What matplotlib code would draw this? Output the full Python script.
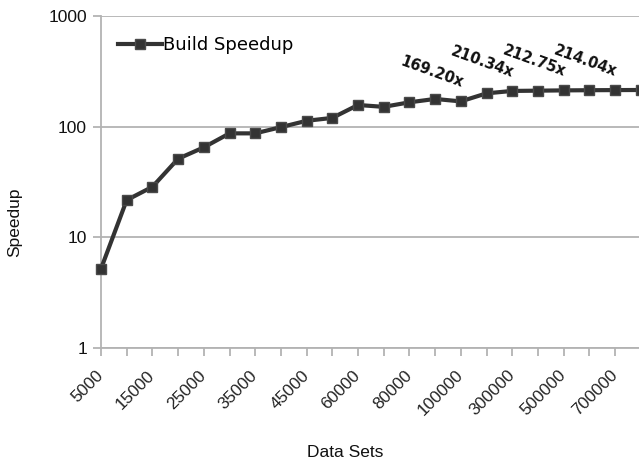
import matplotlib
matplotlib.use("Agg")
import matplotlib.pyplot as plt
import numpy as np

# Data set sizes (categorical x axis) and measured build speedup
data_sets = [5000, 10000, 15000, 20000, 25000, 30000, 35000, 40000, 45000, 50000,
             60000, 70000, 80000, 90000, 100000, 200000, 300000, 400000,
             500000, 600000, 700000, 800000]
speedup = [5.2, 21.7, 28.6, 51.3, 65.0, 87.0, 87.0, 99.0, 113.0, 120.0,
           157.0, 151.0, 166.0, 178.0, 169.20, 200.0, 210.34, 211.5,
           212.75, 213.5, 214.04, 214.5]
labeled = [14, 16, 18, 20]          # points carrying a value label
y_ticks = [1, 10, 100, 1000]

W, H, DPI = 639, 461, 100
fig = plt.figure(figsize=(W / DPI, H / DPI), dpi=DPI)

x0, y_top, y_bot, step = 101, 16, 348, 25.7
n_span = 22
ax = fig.add_axes([x0 / W, (H - y_bot) / H, n_span * step / W, (y_bot - y_top) / H])

x = np.arange(len(data_sets))
line_col = "#333333"
ax.plot(x, speedup, color=line_col, lw=3.0, marker="s", markersize=7.5,
        markerfacecolor="#333333", markeredgecolor="#4a4a4a", markeredgewidth=1.0,
        label="Build Speedup", zorder=3, clip_on=False)

ax.set_yscale("log")
ax.set_ylim(1, 1000)
ax.set_xlim(0, n_span)
ax.set_yticks(y_ticks)
ax.set_yticklabels([str(v) for v in y_ticks])
ax.yaxis.set_minor_locator(matplotlib.ticker.NullLocator())

ax.set_xticks(x)
ax.set_xticklabels([str(v) if i % 2 == 0 else "" for i, v in enumerate(data_sets)],
                   rotation=45, ha="right", va="center", rotation_mode="anchor")

grid_col = "#b3b3b3"
ax.grid(axis="y", color=grid_col, lw=1.3)
ax.set_axisbelow(True)
for s in ["top", "right"]:
    ax.spines[s].set_visible(False)
for s in ["left", "bottom"]:
    ax.spines[s].set_color(grid_col)
    ax.spines[s].set_linewidth(1.3)

ax.tick_params(axis="y", length=6, width=1.3, color=grid_col, pad=4,
               labelsize=12.5, labelcolor="#111111")
ax.tick_params(axis="x", length=6, width=1.3, color=grid_col, pad=12,
               labelsize=12.3, labelcolor="#222222")
for lab in ax.get_xticklabels() + ax.get_yticklabels():
    lab.set_fontfamily("Liberation Sans")

for i in labeled:
    ax.annotate(f"{speedup[i]:.2f}x", xy=(x[i], speedup[i]), xytext=(-1, 11),
                textcoords="offset pixels", rotation=-20, rotation_mode="anchor",
                ha="right", va="bottom", fontsize=10.5, fontweight="bold",
                color="#111111", family="DejaVu Sans")

fig.text(15 / W, 1 - 222 / H, "Speedup", rotation=90, ha="center", va="center",
         fontsize=12.5, family="Liberation Sans", color="#111111")
fig.text(345 / W, 1 - 452 / H, "Data Sets", ha="center", va="center",
         fontsize=12.5, family="Liberation Sans", color="#111111")

leg = ax.legend(loc="upper left", bbox_to_anchor=(118 / W, 1 - 36 / H),
                bbox_transform=fig.transFigure, frameon=False, fontsize=13,
                handlelength=2.45, handletextpad=0.05, borderpad=0, borderaxespad=0)

fig.savefig("out.png", dpi=DPI)
